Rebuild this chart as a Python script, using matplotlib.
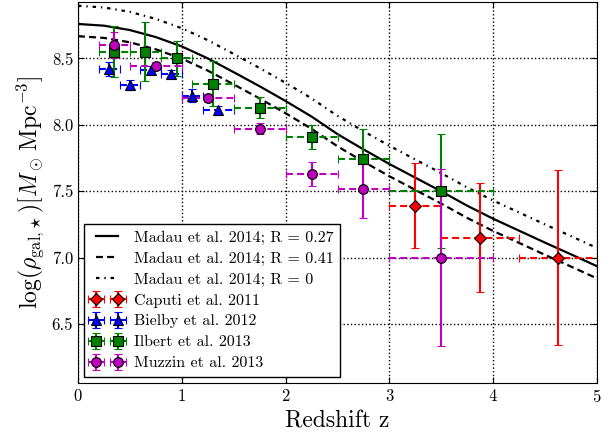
import matplotlib
matplotlib.use('Agg')
import matplotlib.pyplot as plt

plt.rcParams['font.family'] = 'cmr10'
plt.rcParams['mathtext.fontset'] = 'cm'
plt.rcParams['axes.formatter.use_mathtext'] = True
plt.rcParams['lines.scale_dashes'] = False

# Madau et al. 2014 model curves
z_model = [0.0, 0.25, 0.5, 0.75, 1.0, 1.25, 1.5, 1.75, 2.0, 2.25, 2.5,
           2.75, 3.0, 3.25, 3.5, 3.75, 4.0, 4.25, 4.5, 4.75, 5.0]
madau_r027 = [8.759, 8.746, 8.713, 8.660, 8.590, 8.500, 8.396, 8.290, 8.179, 8.062, 7.930,
              7.815, 7.705, 7.602, 7.499, 7.391, 7.293, 7.203, 7.113, 7.025, 6.936]
madau_r041 = [8.667, 8.654, 8.621, 8.568, 8.498, 8.408, 8.304, 8.198, 8.087, 7.970, 7.838,
              7.723, 7.613, 7.510, 7.407, 7.299, 7.201, 7.111, 7.021, 6.933, 6.844]
madau_r0 = [8.896, 8.883, 8.850, 8.797, 8.727, 8.637, 8.533, 8.427, 8.316, 8.199, 8.067,
            7.952, 7.842, 7.739, 7.636, 7.528, 7.430, 7.340, 7.250, 7.162, 7.073]

# Caputi et al. 2011
caputi_z = [3.25, 3.875, 4.625]
caputi_zerr = [0.25, 0.375, 0.375]
caputi_rho = [7.39, 7.15, 7.00]
caputi_err = [0.32, 0.41, 0.66]

# Bielby et al. 2012
bielby_z = [0.3, 0.5, 0.7, 0.9, 1.1, 1.35]
bielby_zerr = [0.1, 0.1, 0.1, 0.1, 0.1, 0.15]
bielby_rho = [8.42, 8.30, 8.41, 8.38, 8.22, 8.11]
bielby_err = [0.05, 0.04, 0.03, 0.03, 0.05, 0.035]

# Ilbert et al. 2013
ilbert_z = [0.35, 0.65, 0.95, 1.3, 1.75, 2.25, 2.75, 3.5]
ilbert_zerr = [0.15, 0.15, 0.15, 0.2, 0.25, 0.25, 0.25, 0.5]
ilbert_rho = [8.55, 8.55, 8.50, 8.31, 8.13, 7.905, 7.745, 7.50]
ilbert_err = [0.19, 0.22, 0.13, 0.17, 0.08, 0.09, 0.22, 0.43]

# Muzzin et al. 2013
muzzin_z = [0.35, 0.75, 1.25, 1.75, 2.25, 2.75, 3.5]
muzzin_zerr = [0.15, 0.25, 0.25, 0.25, 0.25, 0.25, 0.5]
muzzin_rho = [8.60, 8.44, 8.20, 7.97, 7.63, 7.52, 7.00]
muzzin_err = [0.10, 0.03, 0.03, 0.04, 0.09, 0.225, 0.665]

xticks = [0, 1, 2, 3, 4, 5]
yticks = [6.5, 7.0, 7.5, 8.0, 8.5]

fig = plt.figure(figsize=(6.14, 4.38), dpi=100)
ax = fig.add_axes([78 / 614, 55 / 438, 519 / 614, 381.5 / 438])

ax.plot(z_model, madau_r027, color='k', lw=1.6, ls='-', label='Madau et al. 2014; R = 0.27')
ax.plot(z_model, madau_r041, color='k', lw=1.6, ls=(0, (5, 3)), label='Madau et al. 2014; R = 0.41')
ax.plot(z_model, madau_r0, color='k', lw=1.6, ls=(0, (2.5, 3.5, 1, 3.5)), label='Madau et al. 2014; R = 0')

datasets = [
    (caputi_z, caputi_zerr, caputi_rho, caputi_err, 'D', 'r', 6.5, 'Caputi et al. 2011'),
    (bielby_z, bielby_zerr, bielby_rho, bielby_err, '^', 'b', 7, 'Bielby et al. 2012'),
    (ilbert_z, ilbert_zerr, ilbert_rho, ilbert_err, 's', 'g', 6.5, 'Ilbert et al. 2013'),
    (muzzin_z, muzzin_zerr, muzzin_rho, muzzin_err, 'o', 'm', 7, 'Muzzin et al. 2013'),
]
for zz, zerr, rho, err, mk, c, ms, lab in datasets:
    eb = ax.errorbar(zz, rho, xerr=zerr, yerr=err, fmt=mk, color=c, ecolor=c,
                     mec='k', mew=0.8, ms=ms, capsize=3, elinewidth=1.5, capthick=1.2,
                     label=lab)
    eb[2][0].set_linestyle((0, (5, 3)))
    eb[0].set_zorder(4)

ax.set_xlim(0, 5)
ax.set_ylim(6.057, 8.928)
ax.set_xticks(xticks)
ax.set_yticks(yticks)
ax.set_yticklabels(['%.1f' % v for v in yticks])
ax.tick_params(direction='in', top=True, right=True, labelsize=12, length=4)
ax.grid(True, ls=':', color='k', lw=1)

ax.set_xlabel('Redshift z', fontsize=17)
ax.set_ylabel(r'$\log(\rho_{\rm gal,\!\star})[M_\odot\, {\rm Mpc}^{-3}]$', fontsize=17)

leg = ax.legend(loc='lower left', numpoints=2, fontsize=11.5, fancybox=False,
                edgecolor='k', framealpha=1, borderaxespad=0.4, labelspacing=0.42,
                handletextpad=0.7)
leg.get_frame().set_linewidth(1.0)

fig.savefig('out.png', dpi=100)
